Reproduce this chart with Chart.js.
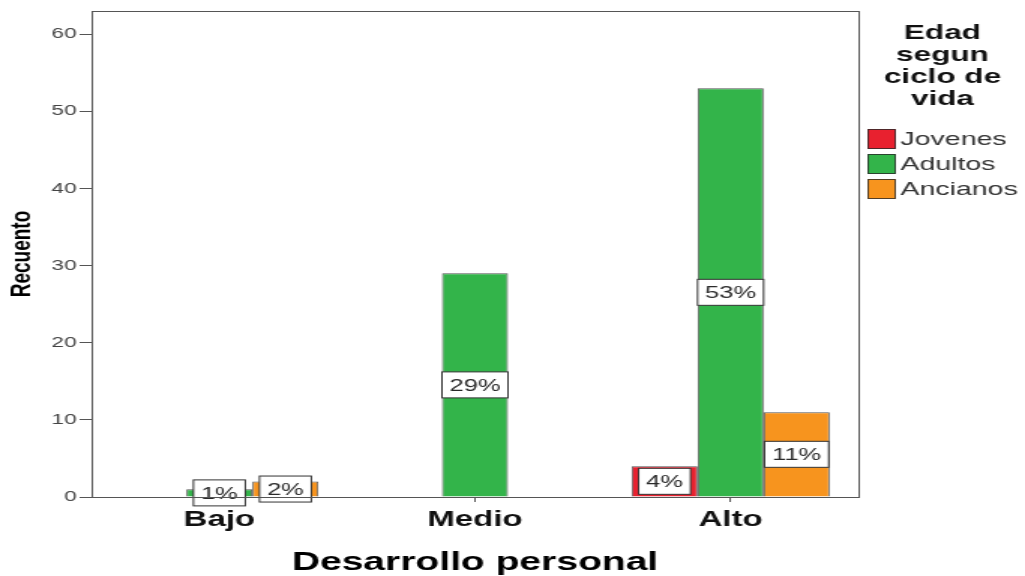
<!DOCTYPE html>
<html lang="es">
<head>
<meta charset="UTF-8">
<title>Desarrollo personal</title>
<script src="https://cdn.jsdelivr.net/npm/chart.js"></script>
<style>
  body { margin: 0; background: #fff; overflow: hidden; }
  canvas { display: block; }
</style>
</head>
<body>
<!-- drawn narrow and widened by css: the reference picture is stretched sideways -->
<canvas id="chart" width="683" height="576" style="width:1025px;height:576px"></canvas>
<script>
const categories = ['Bajo', 'Medio', 'Alto'];
const groups = ['Jovenes', 'Adultos', 'Ancianos'];
const jovenes = [0, 0, 4];
const adultos = [1, 29, 53];
const ancianos = [2, 0, 11];
const yTicks = [0, 10, 20, 30, 40, 50, 60];
const legendTitle = ['Edad', 'segun', 'ciclo de', 'vida'];

const colors = ['#e8212f', '#33b44a', '#f7941e'];
const edge = 'rgba(40,40,40,0.8)';
const font = "'Liberation Sans', Arial, sans-serif";
const series = [jovenes, adultos, ancianos];
const total = series.flat().reduce((a, b) => a + b, 0);

// white boxed percent labels in the middle of each bar
const percentLabels = {
    id: 'percentLabels',
    afterDatasetsDraw(chart) {
        const ctx = chart.ctx;
        ctx.save();
        ctx.font = '17px ' + font;
        ctx.textAlign = 'center';
        ctx.textBaseline = 'middle';
        chart.data.datasets.forEach((ds, i) => {
            chart.getDatasetMeta(i).data.forEach((bar, j) => {
                const v = ds.data[j];
                if (!v) return;
                const txt = Math.round(v / total * 100) + '%';
                const w = Math.min(ctx.measureText(txt).width + 10, bar.width);
                const h = 26;
                const cy = (bar.y + bar.base) / 2;
                ctx.fillStyle = '#fff';
                ctx.fillRect(bar.x - w / 2, cy - h / 2, w, h);
                ctx.strokeStyle = '#333';
                ctx.lineWidth = 1;
                ctx.strokeRect(bar.x - w / 2, cy - h / 2, w, h);
                ctx.fillStyle = '#2a2a2a';
                ctx.fillText(txt, bar.x, cy + 1);
            });
        });
        ctx.restore();
    }
};

// box round the plot and the legend on the right
const frameAndLegend = {
    id: 'frameAndLegend',
    afterDraw(chart) {
        const ctx = chart.ctx;
        const a = chart.chartArea;
        ctx.save();
        ctx.strokeStyle = '#555';
        ctx.lineWidth = 1;
        ctx.strokeRect(Math.round(a.left) + 0.5, Math.round(a.top) + 0.5,
            Math.round(a.right - a.left), Math.round(a.bottom - a.top));

        ctx.fillStyle = '#111';
        ctx.font = 'bold 21px ' + font;
        ctx.textAlign = 'center';
        ctx.textBaseline = 'alphabetic';
        legendTitle.forEach((line, i) => ctx.fillText(line, 628, 39 + i * 22));

        ctx.font = '19px ' + font;
        ctx.textAlign = 'left';
        ctx.textBaseline = 'middle';
        chart.data.datasets.forEach((ds, i) => {
            const cy = 139 + i * 25;
            ctx.fillStyle = ds.backgroundColor;
            ctx.fillRect(578, cy - 10, 19, 20);
            ctx.strokeStyle = edge;
            ctx.strokeRect(578.5, cy - 9.5, 18, 19);
            ctx.fillStyle = '#333';
            ctx.fillText(ds.label, 600, cy + 1);
        });
        ctx.restore();
    }
};

new Chart(document.getElementById('chart'), {
    type: 'bar',
    data: {
        labels: categories,
        datasets: groups.map((g, i) => ({
            label: g,
            data: series[i],
            backgroundColor: colors[i],
            borderColor: edge,
            borderWidth: 1
        }))
    },
    options: {
        responsive: false,
        animation: false,
        devicePixelRatio: 1,
        categoryPercentage: 0.775,
        barPercentage: 1,
        layout: { padding: { left: 0, top: 11, right: 111, bottom: 0 } },
        plugins: {
            legend: { display: false },
            tooltip: { enabled: false }
        },
        scales: {
            x: {
                grid: { drawOnChartArea: false, offset: false, tickLength: 5, color: '#555' },
                border: { color: '#555' },
                ticks: { color: '#111', font: { family: font, size: 22, weight: 'bold' }, padding: 5 },
                title: {
                    display: true,
                    text: 'Desarrollo personal',
                    color: '#000',
                    font: { family: font, size: 26, weight: 'bold', lineHeight: 1 },
                    padding: { top: 0, bottom: 0 }
                },
                afterFit(scale) { scale.height = 79; }
            },
            y: {
                min: 0,
                max: 63,
                grid: { drawOnChartArea: false, tickLength: 8, color: '#555' },
                border: { color: '#555' },
                ticks: { color: '#444', font: { family: font, size: 15 }, padding: 2, includeBounds: false },
                afterBuildTicks(scale) { scale.ticks = yTicks.map(v => ({ value: v })); },
                title: {
                    display: true,
                    text: 'Recuento',
                    color: '#000',
                    font: { family: font, size: 19, weight: 'bold' },
                    padding: { top: 3, bottom: 0 }
                },
                afterFit(scale) { scale.width = 61; }
            }
        }
    },
    plugins: [percentLabels, frameAndLegend]
});
</script>
</body>
</html>
